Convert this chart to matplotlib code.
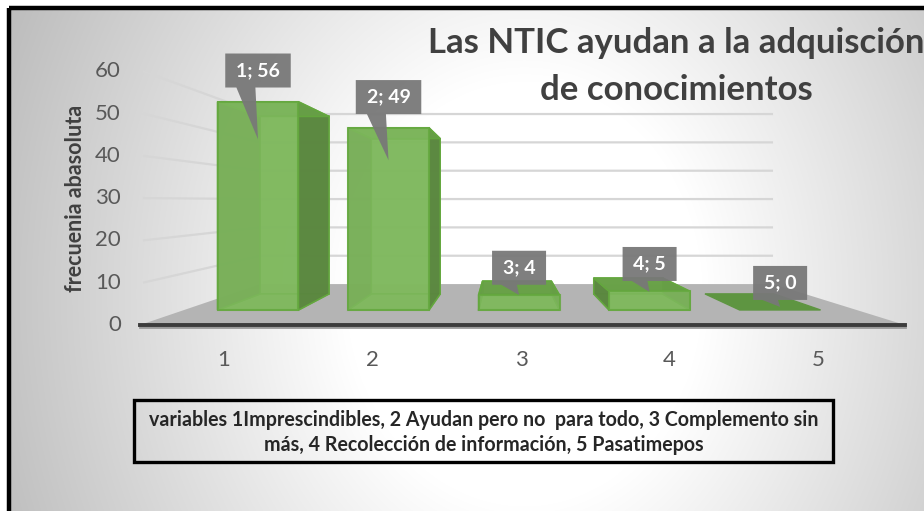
import numpy as np
import matplotlib
matplotlib.use('Agg')
import matplotlib.pyplot as plt
from matplotlib.patches import Polygon, Rectangle

# Survey answers: how much do NTIC help to acquire knowledge
categories = [1, 2, 3, 4, 5]
frequencies = [56, 49, 4, 5, 0]
y_ticks = [0, 10, 20, 30, 40, 50, 60]

title_lines = ['Las NTIC ayudan a la adquisción', 'de conocimientos']
y_label = 'frecuenia abasoluta'
note_lines = ['variables 1Imprescindibles, 2 Ayudan pero no  para todo, 3 Complemento sin',
              'más, 4 Recolección de información, 5 Pasatimepos']

# --- perspective set-up (pixel space, y grows downwards) ---
W, H = 924, 511
VX, VY = 505.0, 201.0          # vanishing point
FLOOR_Y = 325.0                # value 0 on the front plane
PX_PER_UNIT = 4.23             # front plane scale
CAT_X0, CAT_STEP = 224.0, 148.5
HALF_W = 0.31                  # bar half width, in categories
S_FRONT, S_BAR_F, S_BAR_B, S_WALL = 1.0, 0.879, 0.749, 0.67
CAT_LEFT, CAT_RIGHT = 0.434, 5.586

GREEN_FRONT = '#80b95f'
GREEN_SIDE = '#5a863f'
GREEN_TOP = '#67a046'
GREEN_EDGE = '#64a83e'
TEXT_DARK = '#404040'
TEXT_GRAY = '#595959'
FONT = 'Lato'


def project(cat, val, s):
    x0 = CAT_X0 + CAT_STEP * (cat - 1)
    y0 = FLOOR_Y - PX_PER_UNIT * val
    return (VX + s * (x0 - VX), VY + s * (y0 - VY))


fig = plt.figure(figsize=(W / 100, H / 100), dpi=100)
ax = fig.add_axes([0, 0, 1, 1])

# background: white outside the frame, radial grey inside
yy, xx = np.mgrid[0:H, 0:W]
d = np.sqrt(((xx - 520) / 450.0) ** 2 + ((yy - 290) / 540.0) ** 2)
shade = 1 - 0.30 * np.clip(d - 0.40, 0, None)
shade = np.clip(shade, 0.74, 1.0)
img = np.dstack([shade] * 3)
ax.imshow(img, extent=(9, W, H, 8), zorder=0, interpolation='bilinear')
ax.set_xlim(0, W)
ax.set_ylim(H, 0)
ax.axis('off')
ax.add_patch(Rectangle((9, 8), W + 20, H + 20, fill=False, edgecolor='black',
                       linewidth=3.2, zorder=20))

# walls: gridlines on left wall and back wall
for v in y_ticks[1:]:
    p_front = project(CAT_LEFT, v, S_FRONT)
    p_back = project(CAT_LEFT, v, S_WALL)
    p_right = project(CAT_RIGHT, v, S_WALL)
    ax.plot([p_front[0] + 3, p_back[0], p_right[0]], [p_front[1], p_back[1], p_right[1]],
            color='#d6d6d6', linewidth=1.6, zorder=1, solid_capstyle='butt')

# floor
floor = [project(CAT_LEFT, 0, S_FRONT), project(CAT_RIGHT, 0, S_FRONT),
         project(CAT_RIGHT, 0, S_WALL), project(CAT_LEFT, 0, S_WALL)]
ax.add_patch(Polygon(floor, closed=True, facecolor='#b4b4b4', edgecolor='none', zorder=2))
fl, fr = project(CAT_LEFT, 0, S_FRONT), project(CAT_RIGHT, 0, S_FRONT)
ax.plot([fl[0], fr[0]], [fl[1] + 2, fr[1] + 2], color='#9a9a9a', linewidth=2, zorder=3)
ax.plot([fl[0], fr[0]], [fl[1], fr[1]], color='#3c3c3c', linewidth=2.8, zorder=3)

# bars
for cat, val in zip(categories, frequencies):
    L, R = cat - HALF_W, cat + HALF_W

    def face(pts):
        return [project(c, v, s) for c, v, s in pts]

    back = face([(L, 0, S_BAR_B), (R, 0, S_BAR_B), (R, val, S_BAR_B), (L, val, S_BAR_B)])
    bottom = face([(L, 0, S_BAR_F), (R, 0, S_BAR_F), (R, 0, S_BAR_B), (L, 0, S_BAR_B)])
    left = face([(L, 0, S_BAR_F), (L, 0, S_BAR_B), (L, val, S_BAR_B), (L, val, S_BAR_F)])
    right = face([(R, 0, S_BAR_F), (R, 0, S_BAR_B), (R, val, S_BAR_B), (R, val, S_BAR_F)])
    top = face([(L, val, S_BAR_F), (R, val, S_BAR_F), (R, val, S_BAR_B), (L, val, S_BAR_B)])
    front = face([(L, 0, S_BAR_F), (R, 0, S_BAR_F), (R, val, S_BAR_F), (L, val, S_BAR_F)])

    left_visible = project(L, 0, 1)[0] > VX
    side_vis, side_hid = (left, right) if left_visible else (right, left)

    z = 4
    if val > 0:
        for pts, fc in [(back, GREEN_FRONT), (bottom, GREEN_FRONT), (side_hid, GREEN_SIDE)]:
            ax.add_patch(Polygon(pts, closed=True, facecolor=fc, edgecolor=GREEN_EDGE,
                                 linewidth=1.2, alpha=0.9, zorder=z))
        ax.add_patch(Polygon(side_vis, closed=True, facecolor=GREEN_SIDE, edgecolor=GREEN_EDGE,
                             linewidth=1.1, alpha=0.95, zorder=z + 1))
        ax.add_patch(Polygon(top, closed=True, facecolor=GREEN_TOP, edgecolor=GREEN_EDGE,
                             linewidth=1.1, alpha=0.92, zorder=z + 1))
        ax.add_patch(Polygon(front, closed=True, facecolor=GREEN_FRONT, edgecolor=GREEN_EDGE,
                             linewidth=1.5, alpha=0.8, zorder=z + 2))
    else:
        ax.add_patch(Polygon(top, closed=True, facecolor='#5e9541', edgecolor='#5e9541',
                             linewidth=1.0, zorder=z + 1))

# value callouts, pointing at the bar's front face
for cat, val in zip(categories, frequencies):
    fx, _ = project(cat, val, S_BAR_F)
    _, my = project(cat, val, (S_BAR_F + S_BAR_B) / 2)
    tip = (fx, my + 5 + 0.45 * val)
    box_bottom = tip[1] - 7 - 0.8 * val
    label = f'{cat}; {val}'
    bw = 8 + 11.5 * len(label)
    bh = 34
    bl = tip[0] - bw / 2
    shape = [(bl, box_bottom), (bl, box_bottom - bh), (bl + bw, box_bottom - bh),
             (bl + bw, box_bottom), (bl + 0.46 * bw, box_bottom), tip,
             (bl + 0.17 * bw, box_bottom)]
    ax.add_patch(Polygon(shape, closed=True, facecolor='#787878', edgecolor='none',
                         alpha=0.95, zorder=10))
    ax.text(bl + bw / 2, box_bottom - bh / 2, label, color='white', fontsize=14,
            fontweight='bold', family=FONT, ha='center', va='center', zorder=11)

# value axis tick labels
for v in y_ticks:
    px, py = project(CAT_LEFT, v, S_FRONT)
    ax.text(121, py, str(v), color=TEXT_GRAY, fontsize=16, family=FONT,
            ha='right', va='center', zorder=6)

# category labels
for cat in categories:
    px, _ = project(cat, 0, S_FRONT)
    ax.text(px, 360, str(cat), color=TEXT_GRAY, fontsize=16, family=FONT,
            ha='center', va='center', zorder=6)

ax.text(75, 198, y_label, rotation=90, color=TEXT_DARK, fontsize=15.5, fontweight='bold',
        family=FONT, ha='center', va='center', zorder=6)

# title
ax.text(676, 53, title_lines[0], color=TEXT_DARK, fontsize=25, fontweight='bold',
        family=FONT, ha='center', va='baseline', zorder=12)
ax.text(676, 100, title_lines[1], color=TEXT_DARK, fontsize=25, fontweight='bold',
        family=FONT, ha='center', va='baseline', zorder=12)

# note box
ax.add_patch(Rectangle((134, 400), 699, 62, fill=False, edgecolor='black',
                       linewidth=2.4, zorder=12))
ax.text(483.5, 420, note_lines[0], color='#262626', fontsize=14.1, fontweight='bold',
        family=FONT, ha='center', va='center', zorder=12)
ax.text(483.5, 445, note_lines[1], color='#262626', fontsize=14.1, fontweight='bold',
        family=FONT, ha='center', va='center', zorder=12)

fig.savefig('out.png', dpi=100)
